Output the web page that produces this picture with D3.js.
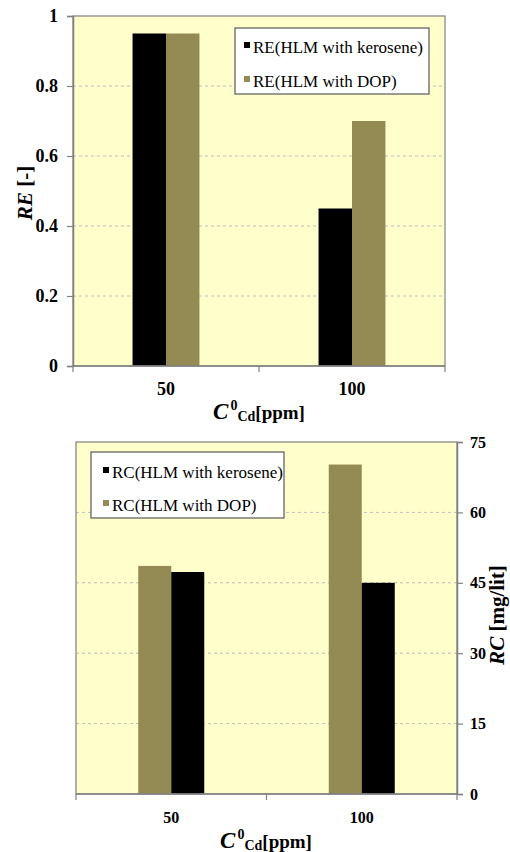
<!DOCTYPE html>
<html>
<head>
<meta charset="utf-8">
<script src="https://cdn.jsdelivr.net/npm/d3@7"></script>
<style>
  html, body { margin: 0; padding: 0; background: #ffffff; }
  svg { display: block; }
  svg text { font-family: "Liberation Serif", "Times New Roman", Times, serif !important; }
</style>
</head>
<body>
<svg id="chart" width="510" height="852" font-family="Liberation Serif, serif"></svg>
<script>
// ---- data ----
const categories = ["50", "100"];
const reKerosene = [0.95, 0.45];
const reDOP = [0.95, 0.70];
const rcKerosene = [47.3, 45.0];
const rcDOP = [48.6, 70.2];
const reTicks = [0, 0.2, 0.4, 0.6, 0.8, 1];
const rcTicks = [0, 15, 30, 45, 60, 75];
const reLegend = ["RE(HLM with kerosene)", "RE(HLM with DOP)"];
const rcLegend = ["RC(HLM with kerosene)", "RC(HLM with DOP)"];

const BLACK = "#000000";
const OLIVE = "#948a54";
const BG = "#ffffcc";
const AXIS = "#808080";
const GRID = "#bdbdbd";

const svg = d3.select("#chart");

function xTitle(g, cx, baseline) {
  const t = g.append("text").attr("x", cx).attr("y", baseline)
    .attr("text-anchor", "middle").attr("font-weight", "bold").attr("fill", "#000");
  t.append("tspan").attr("font-style", "italic").attr("font-size", 23).text("C");
  t.append("tspan").attr("font-size", 14).attr("dy", -9).attr("dx", 2).text("0");
  t.append("tspan").attr("font-size", 14).attr("dy", 11).text("Cd");
  t.append("tspan").attr("font-size", 19).attr("dy", -2).text("[ppm]");
}

function yTitle(g, cx, cy, italicPart, rest) {
  const t = g.append("text").attr("transform", `translate(${cx},${cy}) rotate(-90)`)
    .attr("text-anchor", "middle").attr("font-weight", "bold").attr("font-size", 21)
    .attr("dominant-baseline", "middle").attr("fill", "#000");
  t.append("tspan").attr("font-style", "italic").text(italicPart);
  t.append("tspan").text(rest);
}

function drawChart(opt) {
  const g = svg.append("g");
  const { left, right, top, bottom } = opt;
  const y = d3.scaleLinear().domain([opt.ticks[0], opt.ticks[opt.ticks.length - 1]]).range([bottom, top]);
  const x0 = d3.scaleBand().domain(categories).range([left, right]).paddingInner(0).paddingOuter(0);
  const x1 = d3.scaleBand().domain(opt.barOrder.map(s => s.key))
    .range([0, x0.bandwidth()]).paddingInner(0).paddingOuter(opt.outerPad);

  g.append("rect").attr("x", left).attr("y", top).attr("width", right - left).attr("height", bottom - top)
    .attr("fill", BG);

  g.append("g").selectAll("line").data(opt.ticks.slice(1, -1)).join("line")
    .attr("x1", left).attr("x2", right).attr("y1", d => y(d)).attr("y2", d => y(d))
    .attr("stroke", GRID).attr("stroke-width", 1).attr("stroke-dasharray", "3,3");

  const grp = g.append("g").selectAll("g").data(categories).join("g")
    .attr("transform", d => `translate(${x0(d)},0)`);
  grp.selectAll("rect").data((d, i) => opt.barOrder.map(s => ({ key: s.key, color: s.color, v: s.values[i] })))
    .join("rect")
    .attr("x", d => x1(d.key)).attr("width", x1.bandwidth())
    .attr("y", d => y(d.v)).attr("height", d => bottom - y(d.v))
    .attr("fill", d => d.color);

  g.append("rect").attr("x", left).attr("y", top).attr("width", right - left).attr("height", bottom - top)
    .attr("fill", "none").attr("stroke", AXIS).attr("stroke-width", 1.2);

  // x axis
  const xAxisG = g.append("g").attr("transform", `translate(0,${bottom})`);
  const xtickPos = [left, (left + right) / 2, right];
  xAxisG.append("line").attr("x1", left).attr("x2", right).attr("stroke", AXIS).attr("stroke-width", 1.5);
  xAxisG.selectAll("line.t").data(xtickPos).join("line").attr("class", "t")
    .attr("x1", d => d).attr("x2", d => d).attr("y1", 0).attr("y2", 6).attr("stroke", AXIS).attr("stroke-width", 1.2);
  xAxisG.selectAll("text").data(categories).join("text")
    .attr("x", d => x0(d) + x0.bandwidth() / 2).attr("y", opt.xLabelY - bottom)
    .attr("text-anchor", "middle").attr("font-weight", "bold").attr("font-size", opt.xLabelSize)
    .attr("fill", "#000").text(d => d);

  // y axis
  const axis = opt.yRight
    ? d3.axisRight(y).tickValues(opt.ticks).tickSize(6).tickPadding(7).tickFormat(opt.fmt)
    : d3.axisLeft(y).tickValues(opt.ticks).tickSize(6).tickPadding(9).tickFormat(opt.fmt);
  const yAxisG = g.append("g").attr("transform", `translate(${opt.yRight ? right : left},0)`).call(axis);
  yAxisG.attr("font-family", null);
  yAxisG.select(".domain").attr("stroke", AXIS).attr("stroke-width", 1.5);
  yAxisG.selectAll(".tick line").attr("stroke", AXIS).attr("stroke-width", 1.2);
  yAxisG.selectAll(".tick text")
    .attr("font-weight", "bold").attr("font-size", opt.yLabelSize).attr("fill", "#000");

  // legend
  const L = opt.legend;
  const lg = g.append("g");
  lg.append("rect").attr("x", L.x).attr("y", L.y).attr("width", L.w).attr("height", L.h)
    .attr("fill", "#ffffff").attr("stroke", "#595959").attr("stroke-width", 1.2);
  const items = lg.selectAll("g").data(L.items).join("g")
    .attr("transform", (d, i) => `translate(${L.x},${L.y + L.row0 + i * L.step})`);
  items.append("rect").attr("x", L.mx).attr("y", -11).attr("width", 6).attr("height", 6)
    .attr("fill", d => d.color);
  items.append("text").attr("x", L.mx + 9).attr("y", 0).attr("font-size", 17).attr("fill", "#000")
    .text(d => d.label);

  xTitle(g, opt.xTitleX, opt.xTitleY);
  yTitle(g, opt.yTitleX, opt.yTitleY, opt.yTitleItalic, opt.yTitleRest);
}

drawChart({
  left: 73, right: 445, top: 16, bottom: 366,
  ticks: reTicks, fmt: d => (d === 0 || d === 1) ? String(d) : d.toFixed(1),
  barOrder: [{ key: "k", color: BLACK, values: reKerosene }, { key: "d", color: OLIVE, values: reDOP }],
  outerPad: 1.78,
  xLabelY: 395, xLabelSize: 18, yLabelSize: 18, yRight: false,
  legend: { x: 235, y: 28, w: 194, h: 66, row0: 25, step: 34, mx: 9,
    items: [{ label: reLegend[0], color: BLACK }, { label: reLegend[1], color: OLIVE }] },
  xTitleX: 259, xTitleY: 419,
  yTitleX: 27, yTitleY: 193, yTitleItalic: "RE", yTitleRest: " [-]"
});

drawChart({
  left: 76, right: 457, top: 442, bottom: 794,
  ticks: rcTicks, fmt: d => String(d),
  barOrder: [{ key: "d", color: OLIVE, values: rcDOP }, { key: "k", color: BLACK, values: rcKerosene }],
  outerPad: 1.886,
  xLabelY: 823, xLabelSize: 16, yLabelSize: 16, yRight: true,
  legend: { x: 91, y: 452, w: 193, h: 66, row0: 26, step: 33, mx: 12,
    items: [{ label: rcLegend[0], color: BLACK }, { label: rcLegend[1], color: OLIVE }] },
  xTitleX: 266, xTitleY: 848,
  yTitleX: 499, yTitleY: 615, yTitleItalic: "RC", yTitleRest: " [mg/lit]"
});
</script>
</body>
</html>
